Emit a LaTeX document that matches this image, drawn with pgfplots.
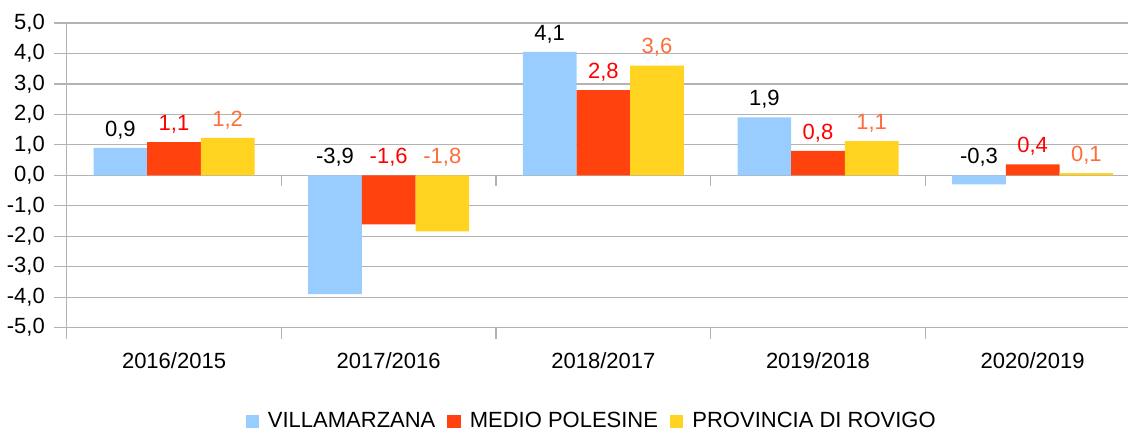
\documentclass[border=0pt]{standalone}
\usepackage{pgfplots}
\pgfplotsset{compat=1.18}
\usepackage{fontspec}
\setmainfont{Liberation Sans}
\usetikzlibrary{calc}
\definecolor{cBlue}{HTML}{99CCFF}
\definecolor{cRed}{HTML}{FF420E}
\definecolor{cYellow}{HTML}{FFD320}
\definecolor{lRed}{HTML}{FF0000}
\definecolor{lOrange}{HTML}{FF6D3A}
\definecolor{gridgray}{HTML}{B3B3B3}
\begin{document}
\fontsize{11}{13}\selectfont
\begin{tikzpicture}
\begin{axis}[
  at={(0,0)}, anchor=south west,
  scale only axis, width=536.75pt, height=152.35pt,
  xmin=-0.5, xmax=4.5, ymin=-5, ymax=5,
  ybar=0pt, bar width=0.25,
  legend image code/.code={\fill[#1] (0pt,-3.35pt) rectangle (6.7pt,3.35pt);},
  axis lines*=left,
  axis line style={gridgray, line width=0.6pt},
  ytick={-5,-4,...,5},
  ymajorgrids, grid style={gridgray, line width=0.6pt},
  xtick={0,1,2,3,4},
  xticklabels={2016/2015,2017/2016,2018/2017,2019/2018,2020/2019},
  minor xtick={-0.5,0.5,1.5,2.5,3.5,4.5},
  tick align=outside,
  major tick length=6.3pt,
  minor tick length=5.5pt,
  major x tick style={draw=none},
  minor x tick style={gridgray, line width=0.6pt},
  major y tick style={gridgray, line width=0.6pt},
  yticklabel style={/pgf/number format/fixed, /pgf/number format/fixed zerofill, /pgf/number format/precision=1, /pgf/number format/use comma, /pgf/number format/assume math mode=true, xshift=-0.8pt, font=\fontsize{11}{13}\selectfont},
  xticklabel style={yshift=-2.5pt, font=\fontsize{11}{13}\selectfont},
  nodes near coords={\pgfmathprintnumber[fixed, fixed zerofill, precision=1, use comma, assume math mode=true]{\pgfplotspointmeta}},
  visualization depends on=rawy \as \rawy,
  every node near coord/.append style={anchor=south, font=\fontsize{11}{13}\selectfont, yshift={max(-\rawy,0)*15.235pt+0.6pt}},
  legend columns=-1,
  legend style={draw=none, fill=none, at={(0.490,-0.309)}, anchor=center, font=\fontsize{11}{13}\selectfont,
    /tikz/every odd column/.append style={column sep=2.5pt},
    /tikz/every even column/.append style={column sep=4pt}},
]
\addplot[fill=cBlue, draw=none, every node near coord/.append style={text=black}] coordinates {(0,0.9) (1,-3.9) (2,4.05) (3,1.9) (4,-0.3)};
\addplot[fill=cRed, draw=none, every node near coord/.append style={text=lRed}] coordinates {(0,1.09) (1,-1.61) (2,2.8) (3,0.8) (4,0.36)};
\addplot[fill=cYellow, draw=none, every node near coord/.append style={text=lOrange}] coordinates {(0,1.23) (1,-1.84) (2,3.6) (3,1.12) (4,0.07)};
\legend{VILLAMARZANA, MEDIO POLESINE, PROVINCIA DI ROVIGO}
\foreach \xx in {0.5,1.5,2.5,3.5} {
  \edef\tmp{\noexpand\draw[gridgray, line width=0.6pt] (axis cs:\xx,0) -- ++(0pt,-5.5pt);}\tmp
}
\end{axis}
\pgfresetboundingbox
\path[use as bounding box] ($(current axis.south west)+(-33.35pt,-52.2pt)$) rectangle ($(current axis.north east)+(-6pt,11.5pt)$);
\end{tikzpicture}
\end{document}
